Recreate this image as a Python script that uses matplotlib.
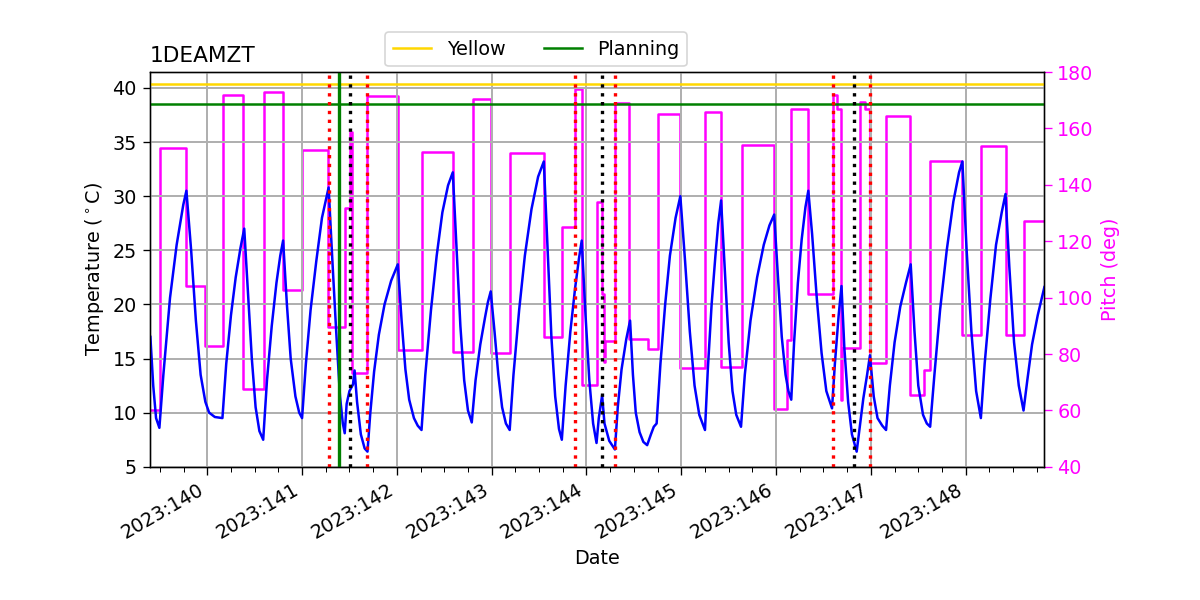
import matplotlib
matplotlib.use("Agg")
import matplotlib.pyplot as plt
from matplotlib.ticker import MultipleLocator, FuncFormatter

# Temperatura 1DEAMZT (dzien roku 2023, stopnie C)
temp_days = [
    139.40, 139.43, 139.46, 139.495, 139.537, 139.607, 139.677, 139.747, 139.78,
    139.83, 139.88, 139.93, 139.98, 140.02, 140.08, 140.16,
    140.20, 140.25, 140.30, 140.35, 140.39,
    140.43, 140.47, 140.51, 140.55, 140.59,
    140.63, 140.68, 140.73, 140.77, 140.80,
    140.84, 140.88, 140.93, 140.97, 141.00,
    141.04, 141.09, 141.15, 141.21, 141.28,
    141.32, 141.36, 141.40, 141.43, 141.45,
    141.47, 141.50, 141.537, 141.554, 141.58, 141.62, 141.66, 141.69,
    141.72, 141.76, 141.81, 141.87, 141.94, 142.01,
    142.05, 142.09, 142.13, 142.18, 142.22, 142.26,
    142.30, 142.36, 142.42, 142.48, 142.54, 142.59,
    142.63, 142.67, 142.71, 142.75, 142.79,
    142.83, 142.88, 142.93, 142.96, 142.99,
    143.03, 143.07, 143.11, 143.15, 143.19,
    143.23, 143.29, 143.35, 143.42, 143.49, 143.55,
    143.59, 143.63, 143.67, 143.71, 143.74,
    143.78, 143.83, 143.88, 143.92, 143.95,
    143.99, 144.03, 144.07, 144.106,
    144.13, 144.165, 144.19, 144.24, 144.30,
    144.33, 144.37, 144.42, 144.46,
    144.49, 144.52, 144.56, 144.60, 144.64,
    144.68, 144.71, 144.74,
    144.78, 144.83, 144.88, 144.94, 144.99,
    145.04, 145.09, 145.14, 145.19, 145.25,
    145.28, 145.32, 145.36, 145.39, 145.42,
    145.46, 145.50, 145.54, 145.58, 145.63,
    145.67, 145.73, 145.80, 145.87, 145.93, 145.98,
    146.02, 146.06, 146.10, 146.13, 146.16,
    146.19, 146.23, 146.27, 146.31, 146.34,
    146.38, 146.43, 146.48, 146.53, 146.59,
    146.62, 146.66, 146.69,
    146.72, 146.76, 146.80, 146.85,
    146.88, 146.92, 146.96, 146.99,
    147.03, 147.07, 147.12, 147.16,
    147.20, 147.25, 147.31, 147.37, 147.42,
    147.46, 147.50, 147.55, 147.59, 147.625,
    147.67, 147.73, 147.80, 147.87, 147.93, 147.965,
    148.01, 148.06, 148.11, 148.16,
    148.20, 148.26, 148.32, 148.38, 148.42,
    148.46, 148.51, 148.56, 148.61,
    148.65, 148.70, 148.76, 148.83,
]
temp_vals = [
    17.0, 12.5, 9.5, 8.6, 13.5, 20.6, 25.5, 29.2, 30.5,
    25.0, 18.5, 13.5, 11.0, 10.0, 9.6, 9.5,
    14.5, 19.0, 22.5, 25.2, 27.0,
    21.0, 15.0, 10.5, 8.3, 7.5,
    13.0, 18.0, 22.0, 24.5, 25.9,
    20.0, 15.0, 11.5, 10.0, 9.5,
    14.5, 19.5, 24.0, 28.0, 30.8,
    24.0, 17.5, 11.5, 9.0, 8.1,
    10.8, 12.0, 12.6, 13.9, 11.0, 8.0, 6.7, 6.4,
    10.0, 13.8, 17.2, 20.0, 22.2, 23.7,
    18.5, 14.0, 11.2, 9.5, 8.8, 8.4,
    13.5, 19.5, 24.5, 28.5, 31.0, 32.2,
    25.0, 18.0, 13.0, 10.2, 9.1,
    13.0, 16.3, 18.8, 20.2, 21.2,
    17.5, 13.5, 10.5, 9.0, 8.4,
    13.5, 19.5, 24.5, 28.8, 31.8, 33.2,
    25.0, 17.0, 11.5, 8.5, 7.5,
    12.5, 17.5, 21.5, 24.2, 25.9,
    19.0, 13.0, 9.0, 7.2,
    9.5, 11.6, 9.0, 7.4, 6.6,
    10.5, 14.0, 16.8, 18.5,
    13.5, 10.0, 8.2, 7.3, 7.0,
    8.0, 8.7, 9.0,
    14.5, 20.0, 24.5, 28.0, 30.0,
    24.0, 17.5, 12.5, 9.8, 8.4,
    14.0, 20.0, 24.5, 27.5, 29.6,
    23.0, 16.5, 12.0, 9.8, 8.7,
    13.5, 18.5, 22.5, 25.5, 27.3, 28.3,
    22.5, 17.0, 13.5, 12.0, 11.2,
    16.5, 22.0, 26.0, 29.0, 30.5,
    26.5, 20.5, 15.5, 12.0, 10.4,
    14.5, 19.0, 21.7,
    16.0, 11.0, 8.0, 6.4,
    8.5, 11.3, 13.5, 15.3,
    11.5, 9.5, 8.8, 8.4,
    12.5, 16.5, 19.8, 22.0, 23.7,
    17.5, 12.5, 9.8, 9.0, 8.7,
    13.5, 19.5, 25.0, 29.5, 32.2, 33.2,
    25.0, 17.5, 12.0, 9.5,
    14.5, 20.5, 25.5, 28.5, 30.2,
    23.5, 16.5, 12.5, 10.2,
    13.0, 16.3, 19.0, 21.6,
]

# Pitch (schodki, zmiana w podanym dniu)
pitch_days = [
    139.40, 139.50, 139.78, 139.975, 140.17, 140.38, 140.60, 140.80, 141.00, 141.27,
    141.45, 141.51, 141.53, 141.69, 142.01, 142.27, 142.59, 142.80, 142.99, 143.19,
    143.55, 143.74, 143.88, 143.95, 144.106, 144.165, 144.18, 144.20, 144.30, 144.45,
    144.65, 144.75, 144.99, 145.25, 145.42, 145.64, 145.98, 146.12, 146.155, 146.34,
    146.60, 146.64, 146.68, 146.70, 146.88, 146.94, 146.99, 147.16, 147.41, 147.56,
    147.62, 147.96, 148.16, 148.42, 148.61, 148.83,
]
pitch_vals = [
    60.0, 153.0, 104.0, 83.0, 172.0, 67.5, 173.0, 102.6, 152.5, 89.6,
    131.8, 158.7, 73.1, 171.5, 81.3, 151.6, 80.8, 170.5, 80.5, 151.1,
    86.1, 125.1, 173.9, 69.0, 133.9, 101.4, 77.2, 84.5, 169.1, 85.2,
    81.9, 165.2, 75.2, 165.8, 75.4, 154.0, 60.4, 84.9, 166.8, 101.1,
    171.7, 167.0, 63.6, 82.0, 169.4, 167.0, 76.9, 164.4, 65.4, 74.5,
    148.5, 86.9, 153.8, 86.7, 127.3, 127.3,
]

yellow_limit = 40.4
planning_limit = 38.5
red_times = [141.285, 141.685, 143.879, 144.30, 146.60, 146.99]
black_times = [141.507, 144.16, 146.82]
green_time = 141.39

plt.rcParams["font.size"] = 11.5
plt.rcParams["xtick.major.size"] = 4.5
plt.rcParams["ytick.major.size"] = 4.5
plt.rcParams["xtick.minor.size"] = 2.8

fig, ax = plt.subplots(figsize=(10, 5), dpi=120)
fig.subplots_adjust(left=0.125, right=0.87, top=0.88, bottom=0.222)
ax2 = ax.twinx()

ax2.step(pitch_days, pitch_vals, where="post", color="magenta")
ax2.set_ylim(40, 180)
ax2.set_yticks(range(40, 181, 20))
ax2.set_ylabel("Pitch (deg)", color="magenta")
ax2.tick_params(axis="y", colors="magenta")

# temperatura nad pitch
ax.set_zorder(ax2.get_zorder() + 1)
ax.patch.set_visible(False)

ax.plot(temp_days, temp_vals, color="blue")
ax.axhline(yellow_limit, color="gold", label="Yellow")
ax.axhline(planning_limit, color="green", label="Planning")
for t in red_times:
    ax.axvline(t, color="red", linestyle=":", linewidth=2)
for t in black_times:
    ax.axvline(t, color="black", linestyle=":", linewidth=2)
ax.axvline(green_time, color="green", linewidth=2)

ax.set_xlim(139.396, 148.826)
ax.set_ylim(5, 41.47)
ax.set_yticks(range(5, 41, 5))
ax.xaxis.set_major_locator(MultipleLocator(1))
ax.xaxis.set_minor_locator(MultipleLocator(0.25))
ax.xaxis.set_major_formatter(FuncFormatter(lambda v, p: "2023:%03d" % round(v)))
plt.setp(ax.get_xticklabels(), rotation=30, ha="right")
ax.grid(True, color="#b0b0b0", linewidth=1.2)

ax.set_xlabel("Date")
ax.set_ylabel(r"Temperature ($^\circ$C)")
ax.set_title("1DEAMZT", loc="left", fontsize=13)
ax.legend(loc="lower center", bbox_to_anchor=(0.432, 0.99), ncol=2)

fig.savefig("out.png")
